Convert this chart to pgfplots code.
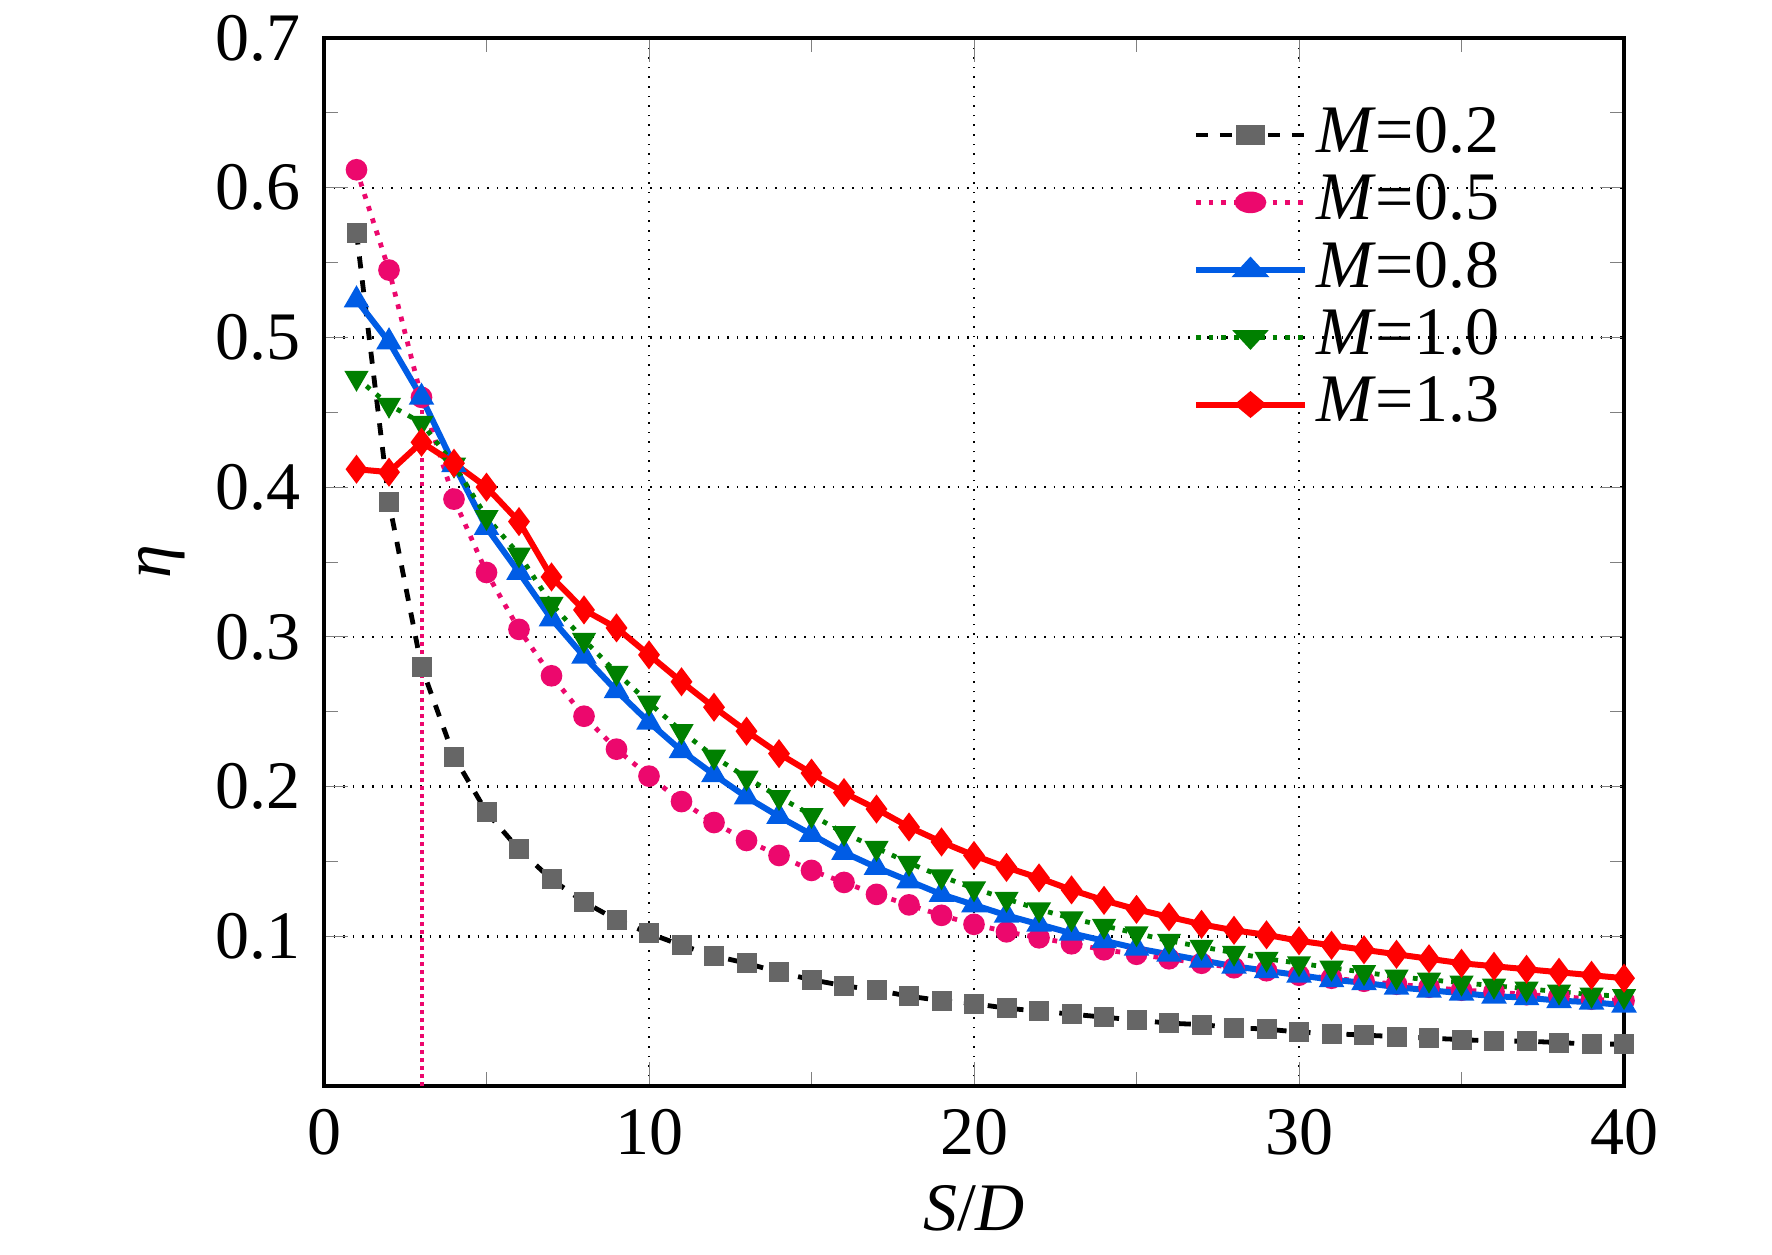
\documentclass[border=0pt]{standalone}
\usepackage{pgfplots}
\pgfplotsset{compat=1.18}
\usepackage{fontspec}
\setmainfont{Liberation Serif}
\begin{document}
\fontsize{17}{20}\selectfont
\begin{tikzpicture}
\path[use as bounding box] (-81pt,-42pt) rectangle (362pt,271.5pt);
\begin{axis}[at={(0,0)},anchor=south west,scale only axis,width=325pt,height=262pt,
xmin=0,xmax=40,ymin=0,ymax=0.7,
xtick={0,10,20,30,40},ytick={0.1,0.2,0.3,0.4,0.5,0.6,0.7},
minor x tick num=1,minor y tick num=1,
tick align=inside,tick pos=both,
major tick length=6pt,minor tick length=3.5pt,
grid=major,major grid style={black,dotted,line width=0.6pt},
/pgf/number format/assume math mode=true,
yticklabel style={/pgf/number format/fixed,/pgf/number format/precision=1,/pgf/number format/fixed zerofill},
ticklabel style={font=\fontsize{17}{20}\selectfont},
axis line style={line width=1pt},
xlabel={\textit{S}/\textit{D}},ylabel={\textit{η}},
xlabel style={yshift=4pt},ylabel style={yshift=-4pt},
legend style={draw=none,fill=none,at={(0.92,0.95)},anchor=north east,font=\fontsize{17}{20}\selectfont,row sep=-1pt},
legend image post style={xscale=1.6},
legend cell align=left,
]
\addplot[black,dashed,line width=1.2pt,mark=square*,mark size=1.9pt,mark options={solid,fill=gray!80!black,draw=gray!80!black}] coordinates {
(1,0.57)(2,0.39)(3,0.28)(4,0.22)(5,0.183)(6,0.158)(7,0.138)(8,0.123)(9,0.111)(10,0.102)(11,0.094)(12,0.087)(13,0.082)(14,0.076)(15,0.071)(16,0.067)(17,0.064)(18,0.060)(19,0.057)(20,0.055)(21,0.052)(22,0.050)(23,0.048)(24,0.046)(25,0.044)(26,0.042)(27,0.041)(28,0.039)(29,0.038)(30,0.036)(31,0.035)(32,0.034)(33,0.033)(34,0.032)(35,0.031)(36,0.030)(37,0.030)(38,0.029)(39,0.028)(40,0.028)};
\addlegendentry{\textit{M}=0.2}
\addplot[magenta!70!red,dotted,line width=1.2pt,mark=*,mark size=2.1pt,mark options={solid,fill=magenta!70!red,draw=magenta!70!red}] coordinates {
(1,0.612)(2,0.545)(3,0.46)(4,0.392)(5,0.343)(6,0.305)(7,0.274)(8,0.247)(9,0.225)(10,0.207)(11,0.19)(12,0.176)(13,0.164)(14,0.154)(15,0.144)(16,0.136)(17,0.128)(18,0.121)(19,0.114)(20,0.108)(21,0.103)(22,0.099)(23,0.095)(24,0.091)(25,0.088)(26,0.085)(27,0.082)(28,0.079)(29,0.077)(30,0.074)(31,0.072)(32,0.070)(33,0.068)(34,0.066)(35,0.064)(36,0.063)(37,0.061)(38,0.060)(39,0.058)(40,0.057)};
\addlegendentry{\textit{M}=0.5}
\addplot[blue!60!cyan!90!black,solid,line width=1.5pt,mark=triangle*,mark size=2.2pt] coordinates {
(1,0.525)(2,0.497)(3,0.46)(4,0.415)(5,0.373)(6,0.343)(7,0.312)(8,0.287)(9,0.264)(10,0.243)(11,0.224)(12,0.208)(13,0.193)(14,0.180)(15,0.168)(16,0.156)(17,0.146)(18,0.137)(19,0.128)(20,0.121)(21,0.114)(22,0.108)(23,0.102)(24,0.097)(25,0.092)(26,0.088)(27,0.084)(28,0.080)(29,0.077)(30,0.074)(31,0.071)(32,0.069)(33,0.066)(34,0.064)(35,0.062)(36,0.060)(37,0.059)(38,0.057)(39,0.056)(40,0.054)};
\addlegendentry{\textit{M}=0.8}
\addplot[green!50!black,dotted,line width=1.2pt,mark=triangle*,mark size=2.3pt,mark options={solid,rotate=180,fill=green!50!black}] coordinates {
(1,0.473)(2,0.455)(3,0.443)(4,0.415)(5,0.38)(6,0.355)(7,0.322)(8,0.298)(9,0.276)(10,0.256)(11,0.237)(12,0.22)(13,0.206)(14,0.193)(15,0.181)(16,0.169)(17,0.159)(18,0.149)(19,0.140)(20,0.132)(21,0.125)(22,0.118)(23,0.112)(24,0.107)(25,0.102)(26,0.097)(27,0.093)(28,0.089)(29,0.085)(30,0.082)(31,0.079)(32,0.076)(33,0.073)(34,0.071)(35,0.069)(36,0.067)(37,0.065)(38,0.063)(39,0.061)(40,0.060)};
\addlegendentry{\textit{M}=1.0}
\addplot[red,solid,line width=1.5pt,mark=diamond*,mark size=2.4pt] coordinates {
(1,0.412)(2,0.41)(3,0.43)(4,0.416)(5,0.4)(6,0.377)(7,0.34)(8,0.318)(9,0.306)(10,0.288)(11,0.27)(12,0.253)(13,0.237)(14,0.222)(15,0.209)(16,0.196)(17,0.185)(18,0.173)(19,0.163)(20,0.154)(21,0.146)(22,0.139)(23,0.131)(24,0.124)(25,0.118)(26,0.113)(27,0.108)(28,0.104)(29,0.101)(30,0.097)(31,0.094)(32,0.091)(33,0.088)(34,0.085)(35,0.082)(36,0.080)(37,0.078)(38,0.076)(39,0.074)(40,0.072)};
\addlegendentry{\textit{M}=1.3}
\addplot[magenta!70!red,densely dotted,line width=1pt,forget plot] coordinates {(3,0)(3,0.46)};
\end{axis}
\end{tikzpicture}
\end{document}
